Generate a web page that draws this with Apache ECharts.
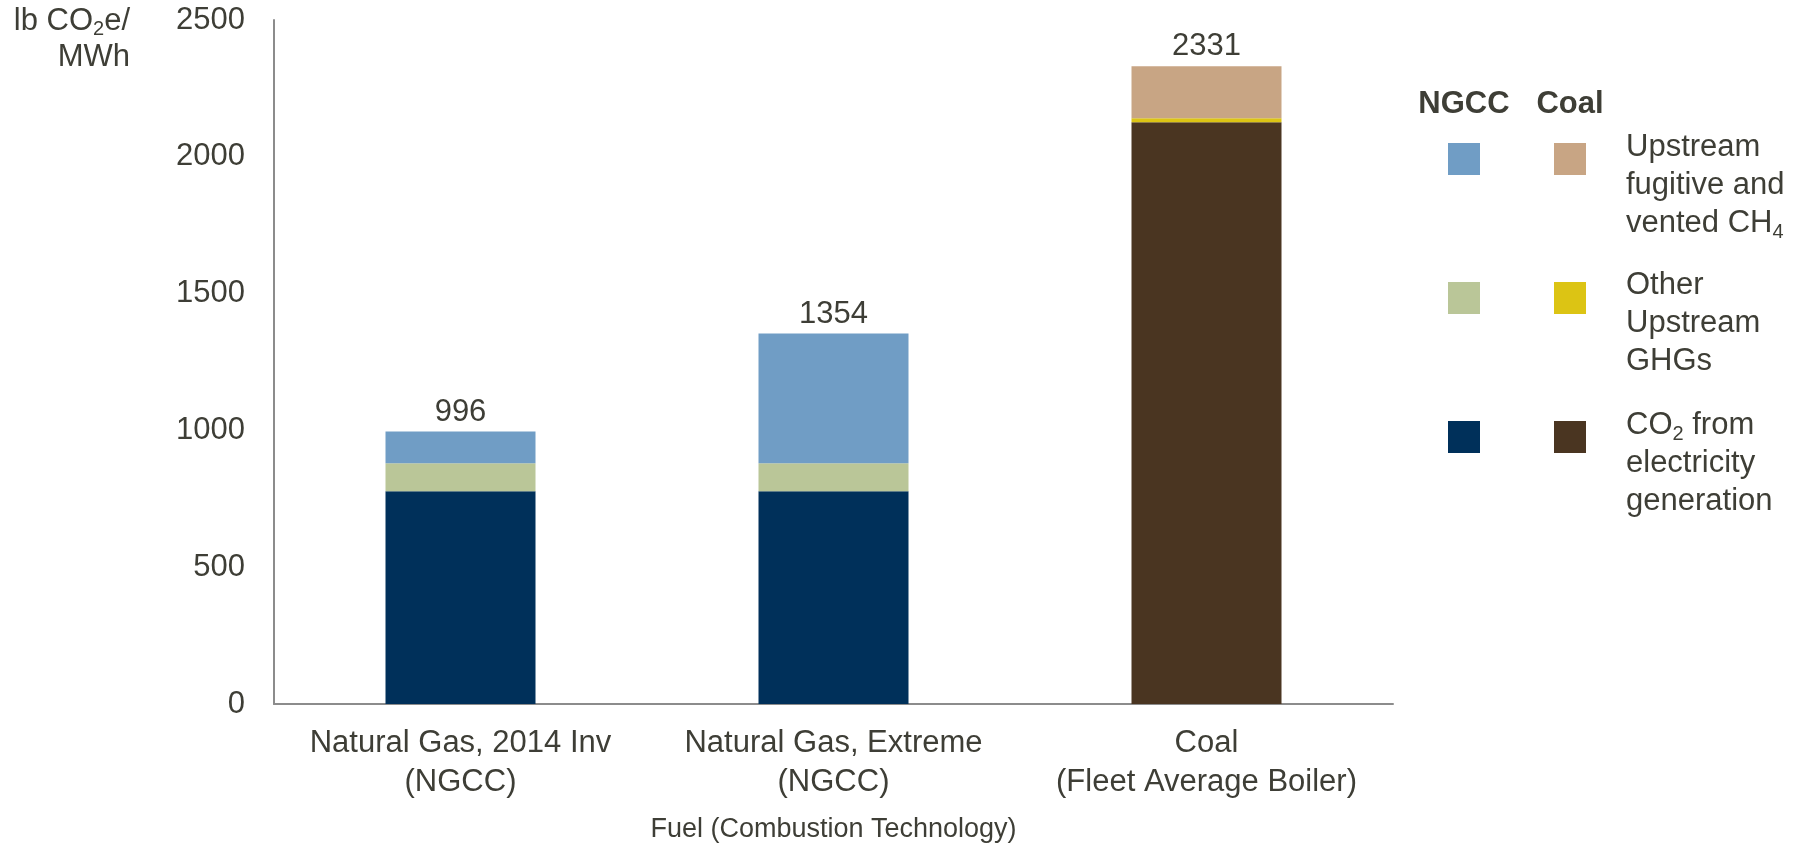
<!DOCTYPE html>
<html>
<head>
<meta charset="utf-8">
<script src="https://cdn.jsdelivr.net/npm/echarts@6/dist/echarts.min.js"></script>
<style>
  html, body { margin: 0; padding: 0; background: #ffffff; }
  #chart { width: 1806px; height: 850px; }
</style>
</head>
<body>
<div id="chart"></div>
<script>
// Life-cycle greenhouse gas emissions per MWh, by fuel and combustion technology
const categories = [
  'Natural Gas, 2014 Inv\n(NGCC)',
  'Natural Gas, Extreme\n(NGCC)',
  'Coal\n(Fleet Average Boiler)'
];
const yTickValues = [0, 500, 1000, 1500, 2000, 2500];

// NGCC segments (lb CO2e/MWh)
const ngccCO2 = [778, 778, null];
const ngccOtherGHG = [102, 102, null];
const ngccUpstreamCH4 = [116, 474, null];

// Coal segments (lb CO2e/MWh)
const coalCO2 = [null, null, 2126];
const coalOtherGHG = [null, null, 15];
const coalUpstreamCH4 = [null, null, 190];

const FONT = '"Liberation Sans", Arial, sans-serif';
const TEXT = '#3e3e36';
const AXIS = '#8c8c8c';

const stacks = [ngccCO2, ngccOtherGHG, ngccUpstreamCH4, coalCO2, coalOtherGHG, coalUpstreamCH4];
const totalAt = i => stacks.reduce((s, arr) => s + (arr[i] || 0), 0);

const totalLabel = {
  show: true,
  position: 'top',
  distance: 4,
  fontFamily: FONT,
  fontSize: 31,
  color: TEXT,
  formatter: p => String(totalAt(p.dataIndex))
};

function seg(name, data, color, label) {
  return {
    name: name,
    type: 'bar',
    stack: 'total',
    barWidth: 150,
    data: data,
    itemStyle: { color: color },
    label: label || { show: false },
    emphasis: { disabled: true },
    animation: false
  };
}

// Rich text styles for legend labels and the unit label
const rich = {
  t: { fontSize: 31, fontFamily: FONT, fill: TEXT, lineHeight: 38 },
  s: { fontSize: 20, fontFamily: FONT, fill: TEXT, lineHeight: 22, verticalAlign: 'bottom' }
};
const richUnit = {
  t: { fontSize: 31, fontFamily: FONT, fill: TEXT, lineHeight: 36 },
  s: { fontSize: 20, fontFamily: FONT, fill: TEXT, lineHeight: 21, verticalAlign: 'bottom' }
};

const legendCommon = {
  orient: 'vertical',
  top: 143,
  itemWidth: 32,
  itemHeight: 32,
  itemGap: 107,
  padding: 0,
  icon: 'rect',
  selectedMode: false,
  formatter: () => ''
};

const option = {
  backgroundColor: '#ffffff',
  animation: false,
  grid: { left: 274, right: 413, top: 20, bottom: 146, containLabel: false },
  legend: [
    Object.assign({ left: 1448, data: ['NGCC upstream CH4', 'NGCC other GHGs', 'NGCC CO2'] }, legendCommon),
    Object.assign({ left: 1554, data: ['Coal upstream CH4', 'Coal other GHGs', 'Coal CO2'] }, legendCommon)
  ],
  xAxis: {
    type: 'category',
    data: categories,
    axisLine: { show: true, lineStyle: { color: AXIS, width: 2 } },
    axisTick: { show: false },
    axisLabel: {
      interval: 0,
      margin: 20,
      fontFamily: FONT,
      fontSize: 31,
      lineHeight: 39,
      color: TEXT
    },
    name: 'Fuel (Combustion Technology)',
    nameLocation: 'middle',
    nameGap: 112,
    nameTextStyle: { fontFamily: FONT, fontSize: 27, color: TEXT }
  },
  yAxis: {
    type: 'value',
    min: yTickValues[0],
    max: yTickValues[yTickValues.length - 1],
    interval: yTickValues[1] - yTickValues[0],
    axisLine: { show: true, lineStyle: { color: AXIS, width: 2 } },
    axisTick: { show: false },
    splitLine: { show: false },
    axisLabel: {
      margin: 29,
      fontFamily: FONT,
      fontSize: 31,
      color: TEXT,
      formatter: v => String(v)
    }
  },
  series: [
    seg('NGCC CO2', ngccCO2, '#00305a'),
    seg('NGCC other GHGs', ngccOtherGHG, '#bac698'),
    seg('NGCC upstream CH4', ngccUpstreamCH4, '#709dc5', totalLabel),
    seg('Coal CO2', coalCO2, '#4a3521'),
    seg('Coal other GHGs', coalOtherGHG, '#dcc414'),
    seg('Coal upstream CH4', coalUpstreamCH4, '#c8a584', totalLabel)
  ],
  graphic: [
    {
      type: 'text', x: 130, y: 3, silent: true,
      style: { text: '{t|lb CO}{s|2}{t|e/}\n{t|MWh}', rich: richUnit, align: 'right', verticalAlign: 'top' }
    },
    {
      type: 'text', x: 1464, y: 104, silent: true,
      style: { text: 'NGCC', font: 'bold 31px ' + FONT, fill: TEXT, align: 'center', verticalAlign: 'middle' }
    },
    {
      type: 'text', x: 1570, y: 104, silent: true,
      style: { text: 'Coal', font: 'bold 31px ' + FONT, fill: TEXT, align: 'center', verticalAlign: 'middle' }
    },
    {
      type: 'text', x: 1626, y: 128, silent: true,
      style: { text: '{t|Upstream}\n{t|fugitive and}\n{t|vented CH}{s|4}', rich: rich, align: 'left', verticalAlign: 'top' }
    },
    {
      type: 'text', x: 1626, y: 266, silent: true,
      style: { text: '{t|Other}\n{t|Upstream}\n{t|GHGs}', rich: rich, align: 'left', verticalAlign: 'top' }
    },
    {
      type: 'text', x: 1626, y: 406, silent: true,
      style: { text: '{t|CO}{s|2}{t| from}\n{t|electricity}\n{t|generation}', rich: rich, align: 'left', verticalAlign: 'top' }
    }
  ]
};

const chart = echarts.init(document.getElementById('chart'), null, { renderer: 'canvas' });
chart.setOption(option);
</script>
</body>
</html>
